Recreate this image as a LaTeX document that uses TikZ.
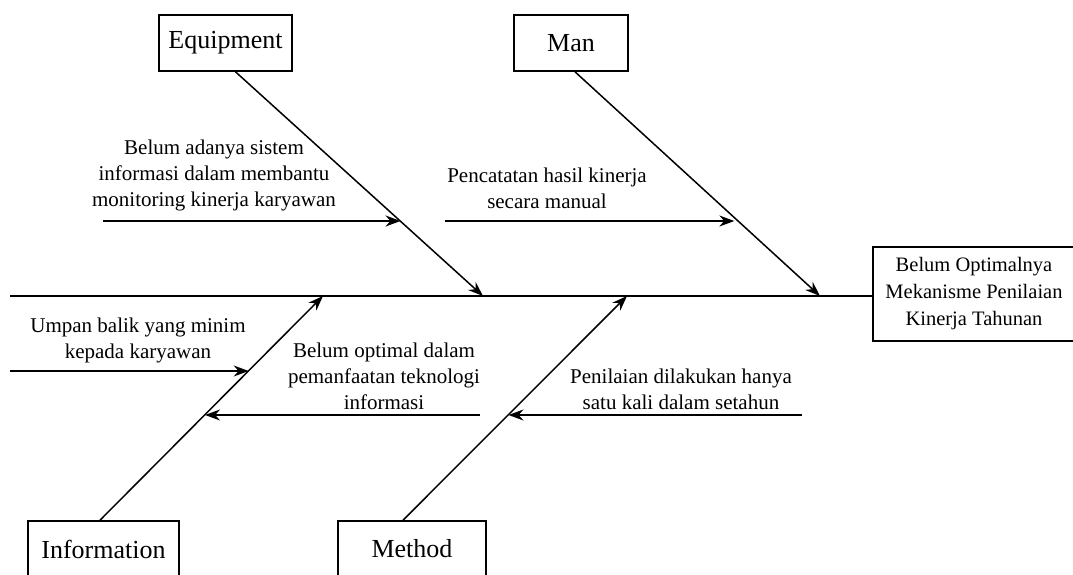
\documentclass[tikz,border=0pt]{standalone}
\usepackage{fontspec}
\setmainfont{Liberation Serif}
\usetikzlibrary{arrows.meta,calc}

\tikzset{
  catbox/.style={draw=black, line width=1.6pt, minimum height=56pt, inner sep=0pt, font=\fontsize{26}{30}\selectfont},
  bone/.style={line width=1.5pt, -{Stealth[length=15pt,width=11pt]}},
  sub/.style={line width=1.5pt, -{Stealth[length=15pt,width=11pt]}},
  cause/.style={align=center, inner sep=0pt, font=\fontsize{21}{26}\selectfont}
}

\begin{document}
\begin{tikzpicture}[x=1pt,y=-1pt]
\useasboundingbox (0,0) rectangle (1073,575);
% categories
\node [catbox, minimum width=133pt] (eq) at (225.5,43) {Equipment};
\node [catbox, minimum width=114pt] (man) at (571,43) {Man};
\node [catbox, minimum width=151pt] (info) at (103.5,549) {Information};
\node [catbox, minimum width=148pt] (met) at (412,549) {Method};
\node [draw=black, line width=1.6pt, minimum width=202pt, minimum height=94pt, inner sep=0pt, align=center,
  font=\fontsize{20.5}{27}\selectfont] (effect) at (974,294)
  {Belum Optimalnya\\Mekanisme Penilaian\\Kinerja Tahunan};
% spine
\coordinate (tail) at (10,296);
\draw [line width=1.5pt] (tail) -- (tail -| effect.west);
% bones
\coordinate (eqs) at ([xshift=10pt]eq.south);
\coordinate (mans) at ([xshift=4pt]man.south);
\coordinate (infos) at ([xshift=-3.5pt]info.north);
\coordinate (mets) at ([xshift=-9pt]met.north);
\coordinate (eqtip) at (483,296);
\coordinate (mantip) at (820,296);
\coordinate (infotip) at (323,296);
\coordinate (mettip) at (627,296);
\draw [bone] (eqs) -- (eqtip);
\draw [bone] (mans) -- (mantip);
\draw [bone] (infos) -- (infotip);
\draw [bone] (mets) -- (mettip);
% causes
\coordinate (a1) at (103,221);
\coordinate (a2) at ($(eqs)!0.6667!(eqtip)$);
\draw [sub] (a1) -- (a1 -| a2);
\node [cause] (ca) at (214,175) {Belum adanya sistem\\informasi dalam membantu\\monitoring kinerja karyawan};

\coordinate (b1) at (445,221);
\coordinate (b2) at ($(mans)!0.6667!(mantip)$);
\draw [sub] (b1) -- ([xshift=-4pt]b1 -| b2);
\node [cause] (cb) at (547,188) {Pencatatan hasil kinerja\\secara manual};

\coordinate (c1) at (10,371);
\coordinate (c2) at ($(infos)!0.6667!(infotip)$);
\draw [sub] (c1) -- (c1 -| c2);
\node [cause] (cc) at (138,340) {Umpan balik yang minim\\kepada karyawan};

\coordinate (d1) at (480,415);
\coordinate (d2) at ($(infos)!0.471!(infotip)$);
\draw [sub] (d1) -- (d1 -| d2);
\node [cause] (cd) at (384,376) {Belum optimal dalam\\pemanfaatan teknologi\\informasi};

\coordinate (e1) at (802,415);
\coordinate (e2) at ($(mets)!0.471!(mettip)$);
\draw [sub] (e1) -- (e1 -| e2);
\node [cause] (ce) at (681,389) {Penilaian dilakukan hanya\\satu kali dalam setahun};
\end{tikzpicture}
\end{document}
